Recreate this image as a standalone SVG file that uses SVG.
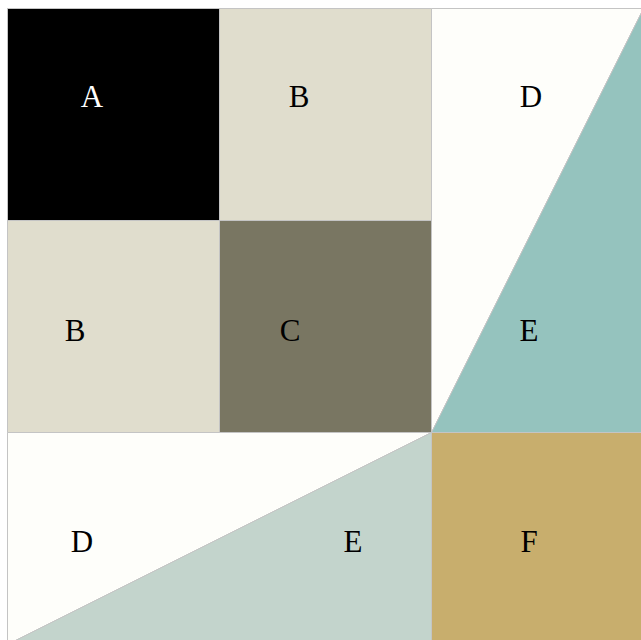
<svg xmlns="http://www.w3.org/2000/svg" width="641" height="640" viewBox="0 0 641 640">
<style>
.s{stroke:#c4c4c4;stroke-width:1}
.t{font-family:"Liberation Serif","Times New Roman",serif;font-size:31px;text-anchor:middle;fill:#000}
.w{fill:#fff}
</style>
<rect width="641" height="640" fill="#fff"/>
<g id="cellA"><rect class="s" x="7.5" y="8.5" width="212" height="212" fill="#000"/><text class="t w" x="92" y="107">A</text></g>
<g id="cellB1"><rect class="s" x="219.5" y="8.5" width="212" height="212" fill="#e0ddcd"/><text class="t" x="299" y="107">B</text></g>
<g id="cellB2"><rect class="s" x="7.5" y="220.5" width="212" height="212" fill="#e0ddcd"/><text class="t" x="75" y="341">B</text></g>
<g id="cellC"><rect class="s" x="219.5" y="220.5" width="212" height="212" fill="#797662"/><text class="t" x="290" y="341">C</text></g>
<g id="cellD1"><polygon class="s" points="431.5,8.5 643.5,8.5 431.5,432.5" fill="#fefefa"/><text class="t" x="531" y="107">D</text></g>
<g id="cellE1"><polygon class="s" points="643.5,8.5 643.5,432.5 431.5,432.5" fill="#95c3be"/><text class="t" x="529" y="341">E</text></g>
<g id="cellD2"><polygon class="s" points="7.5,432.5 431.5,432.5 7.5,644.5" fill="#fefefa"/><text class="t" x="82" y="552">D</text></g>
<g id="cellE2"><polygon class="s" points="431.5,432.5 431.5,644.5 7.5,644.5" fill="#c3d4cc"/><text class="t" x="353" y="552">E</text></g>
<g id="cellF"><rect class="s" x="431.5" y="432.5" width="212" height="212" fill="#c8ae6d"/><text class="t" x="529" y="552">F</text></g>
<g id="connectors"></g>
</svg>
